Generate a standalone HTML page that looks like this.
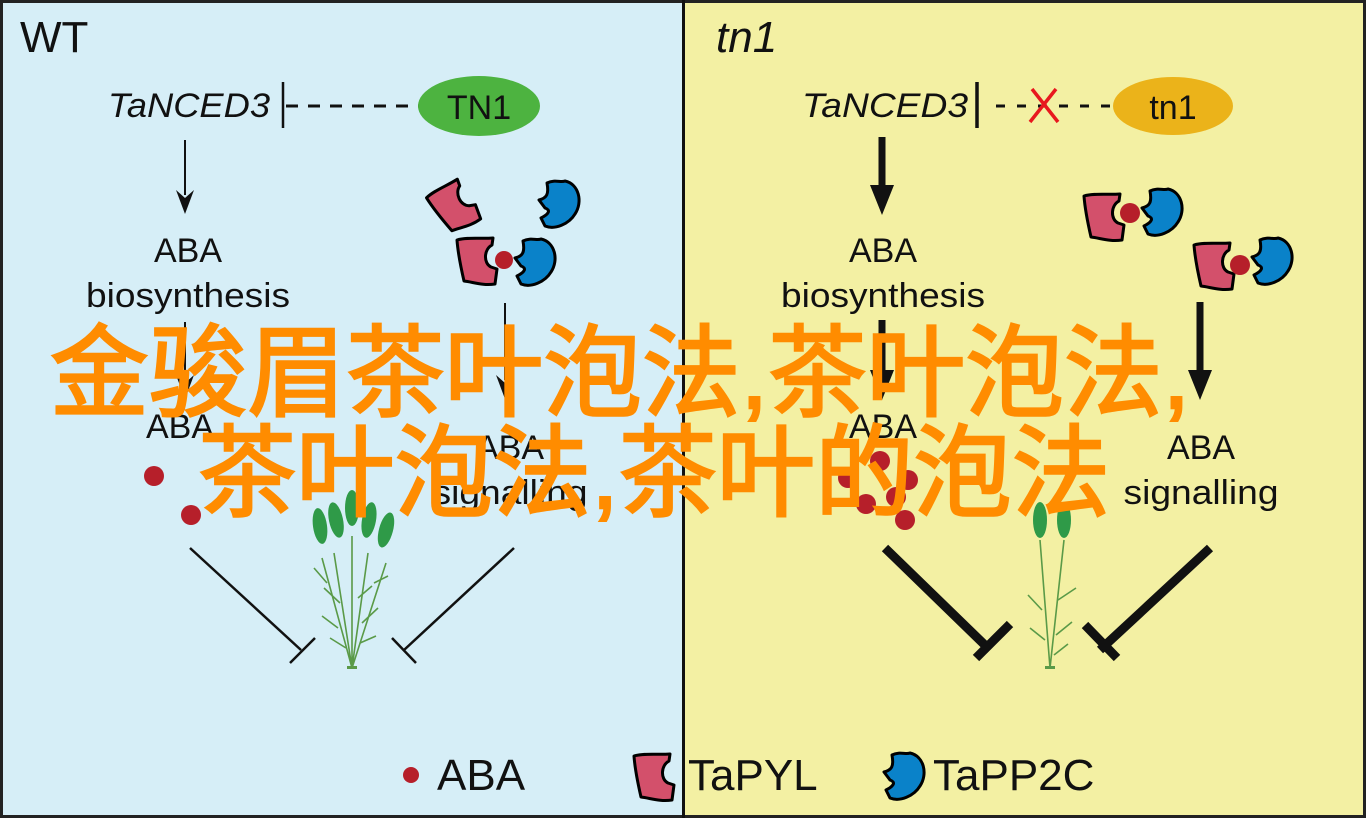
<!DOCTYPE html>
<html><head><meta charset="utf-8"><style>
html,body{margin:0;padding:0;background:#fff}
svg{display:block}
svg text{font-family:"Liberation Sans",sans-serif}
svg text.cjk{font-family:"Liberation Sans","Noto Sans CJK SC",sans-serif}
</style></head><body>
<svg width="1366" height="818" viewBox="0 0 1366 818" xmlns="http://www.w3.org/2000/svg">
<defs>
<g id="pyl"><path d="M2,4 C12,1 26,3 38,2 L37,9 C29,13 28,27 36,31 L42,33 L40,48 C28,50 18,46 9,45 C6,32 3,18 2,4 Z" fill="#d3506b" stroke="#000" stroke-width="3" stroke-linejoin="round"/></g>
<g id="pp2c"><path d="M12,3 C20,-1 26,3 30,1 C44,4 48,22 40,34 C34,44 20,50 10,46 L6,38 C14,34 16,30 10,28 L4,20 C12,18 14,14 12,3 Z" fill="#0a82c9" stroke="#000" stroke-width="3" stroke-linejoin="round"/></g>
<g id="wheat" fill="none" stroke="#5a9a48" stroke-width="1.6">
<path d="M0,160 L-30,50 M0,160 L-18,45 M0,160 L0,28 M0,160 L16,45 M0,160 L34,55"/>
<path d="M-25,75 L-38,60 M-12,95 L-28,80 M-14,120 L-30,108 M-6,140 L-22,130 M6,90 L20,78 M10,115 L26,100 M8,135 L24,128 M22,75 L36,68"/>
<g fill="#2f9a48" stroke="none">
<ellipse cx="-32" cy="18" rx="7" ry="18" transform="rotate(-8 -32 18)"/>
<ellipse cx="-16" cy="12" rx="7" ry="18" transform="rotate(-12 -16 12)"/>
<ellipse cx="0" cy="0" rx="7" ry="18"/>
<ellipse cx="17" cy="12" rx="7" ry="18" transform="rotate(10 17 12)"/>
<ellipse cx="34" cy="22" rx="7" ry="18" transform="rotate(15 34 22)"/>
</g>
<rect x="-5" y="158" width="10" height="3" fill="#5a9a48" stroke="none"/>
</g>
</defs>
<rect x="0" y="0" width="1366" height="818" fill="#222"/>
<rect x="3" y="3" width="679" height="812" fill="#d6eef7"/>
<rect x="685" y="3" width="678" height="812" fill="#f3f0a3"/>
<rect x="682" y="0" width="3" height="818" fill="#111"/>

<!-- LEFT -->
<text x="20" y="52" font-size="44" fill="#111">WT</text>
<text x="108" y="117" font-size="34" font-style="italic" fill="#111" textLength="162" lengthAdjust="spacingAndGlyphs">TaNCED3</text>
<line x1="283" y1="82" x2="283" y2="128" stroke="#111" stroke-width="2.5"/>
<line x1="286" y1="106" x2="420" y2="106" stroke="#111" stroke-width="3" stroke-dasharray="12,10"/>
<ellipse cx="479" cy="106" rx="61" ry="30" fill="#4db340"/>
<text x="479" y="119" font-size="34" text-anchor="middle" fill="#111">TN1</text>
<line x1="185" y1="140" x2="185" y2="195" stroke="#111" stroke-width="2"/>
<path d="M176,190 L185,214 L194,190 L185,198 Z" fill="#111"/>
<text x="188" y="262" font-size="34" text-anchor="middle" fill="#111">ABA</text>
<text x="188" y="307" font-size="34" text-anchor="middle" fill="#111" textLength="204" lengthAdjust="spacingAndGlyphs">biosynthesis</text>
<line x1="185" y1="322" x2="185" y2="380" stroke="#111" stroke-width="2"/>
<path d="M176,375 L185,399 L194,375 L185,383 Z" fill="#111"/>
<line x1="505" y1="303" x2="505" y2="380" stroke="#111" stroke-width="2"/>
<path d="M496,375 L505,399 L514,375 L505,383 Z" fill="#111"/>
<text x="180" y="438" font-size="34" text-anchor="middle" fill="#111">ABA</text>
<text x="510" y="459" font-size="34" text-anchor="middle" fill="#111">ABA</text>
<text x="510" y="504" font-size="34" text-anchor="middle" fill="#111" textLength="155" lengthAdjust="spacingAndGlyphs">signalling</text>
<circle cx="154" cy="476" r="10" fill="#b61f2a"/>
<circle cx="191" cy="515" r="10" fill="#b61f2a"/>
<use href="#pyl" transform="translate(432,182) rotate(-28 22 25)"/>
<use href="#pp2c" transform="translate(535,180)"/>
<use href="#pyl" transform="translate(455,236)"/>
<circle cx="504" cy="260" r="9" fill="#b61f2a"/>
<use href="#pp2c" transform="translate(511,238)"/>
<g stroke="#111" stroke-width="2.5">
<line x1="190" y1="548" x2="301" y2="650"/><line x1="290" y1="663" x2="315" y2="638"/>
<line x1="514" y1="548" x2="404" y2="650"/><line x1="392" y1="638" x2="416" y2="663"/>
</g>
<use href="#wheat" transform="translate(352,508)"/>

<!-- RIGHT -->
<text x="716" y="52" font-size="44" font-style="italic" fill="#111">tn1</text>
<text x="802" y="117" font-size="34" font-style="italic" fill="#111" textLength="166" lengthAdjust="spacingAndGlyphs">TaNCED3</text>
<line x1="977" y1="82" x2="977" y2="128" stroke="#111" stroke-width="3.5"/>
<line x1="996" y1="106" x2="1112" y2="106" stroke="#111" stroke-width="3" stroke-dasharray="9,12"/>
<path d="M1032,89 L1058,122 M1056,89 L1030,122" stroke="#e8181e" stroke-width="3.5"/>
<ellipse cx="1173" cy="106" rx="60" ry="29" fill="#ebb31a"/>
<text x="1173" y="119" font-size="34" text-anchor="middle" fill="#111">tn1</text>
<line x1="882" y1="137" x2="882" y2="190" stroke="#111" stroke-width="7"/>
<path d="M870,185 L882,215 L894,185 Z" fill="#111"/>
<text x="883" y="262" font-size="34" text-anchor="middle" fill="#111">ABA</text>
<text x="883" y="307" font-size="34" text-anchor="middle" fill="#111" textLength="204" lengthAdjust="spacingAndGlyphs">biosynthesis</text>
<line x1="882" y1="320" x2="882" y2="375" stroke="#111" stroke-width="7"/>
<path d="M870,370 L882,400 L894,370 Z" fill="#111"/>
<line x1="1200" y1="302" x2="1200" y2="375" stroke="#111" stroke-width="7"/>
<path d="M1188,370 L1200,400 L1212,370 Z" fill="#111"/>
<text x="883" y="438" font-size="34" text-anchor="middle" fill="#111">ABA</text>
<text x="1201" y="459" font-size="34" text-anchor="middle" fill="#111">ABA</text>
<text x="1201" y="504" font-size="34" text-anchor="middle" fill="#111" textLength="155" lengthAdjust="spacingAndGlyphs">signalling</text>
<g fill="#b61f2a">
<circle cx="848" cy="478" r="10"/><circle cx="880" cy="461" r="10"/><circle cx="908" cy="480" r="10"/>
<circle cx="896" cy="497" r="10"/><circle cx="866" cy="504" r="10"/><circle cx="905" cy="520" r="10"/>
</g>
<use href="#pyl" transform="translate(1082,192)"/>
<circle cx="1130" cy="213" r="10" fill="#b61f2a"/>
<use href="#pp2c" transform="translate(1138,188)"/>
<use href="#pyl" transform="translate(1192,241)"/>
<circle cx="1240" cy="265" r="10" fill="#b61f2a"/>
<use href="#pp2c" transform="translate(1248,237)"/>
<g stroke="#111" stroke-width="9">
<line x1="885" y1="548" x2="990" y2="650"/><line x1="976" y1="658" x2="1010" y2="624"/>
<line x1="1210" y1="548" x2="1100" y2="650"/><line x1="1085" y1="625" x2="1117" y2="658"/>
</g>
<g transform="translate(1050,540)" fill="none" stroke="#5a9a48" stroke-width="1.6">
<path d="M0,128 L-10,0 M0,128 L14,0 M-8,70 L-22,55 M-5,100 L-20,88 M8,60 L26,48 M6,95 L22,82 M4,115 L18,104"/>
<ellipse cx="-10" cy="-20" rx="7" ry="18" fill="#2f9a48" stroke="none"/>
<ellipse cx="14" cy="-20" rx="7" ry="18" fill="#2f9a48" stroke="none"/>
<rect x="-5" y="126" width="10" height="3" fill="#5a9a48" stroke="none"/>
</g>

<!-- LEGEND -->
<circle cx="411" cy="775" r="8" fill="#b61f2a"/>
<text x="437" y="790" font-size="44" fill="#111">ABA</text>
<use href="#pyl" transform="translate(632,752)"/>
<text x="688" y="790" font-size="44" fill="#111">TaPYL</text>
<use href="#pp2c" transform="translate(880,752)"/>
<text x="933" y="790" font-size="44" fill="#111">TaPP2C</text>

<!-- OVERLAY -->
<text class="cjk" x="50" y="408" font-size="100" fill="#ff8c00" stroke="#ff8c00" stroke-width="2.5" textLength="1140" lengthAdjust="spacingAndGlyphs">金骏眉茶叶泡法,茶叶泡法,</text>
<text class="cjk" x="198" y="508" font-size="100" fill="#ff8c00" stroke="#ff8c00" stroke-width="2.5" textLength="912" lengthAdjust="spacingAndGlyphs">茶叶泡法,茶叶的泡法</text>
</svg>
</body></html>
